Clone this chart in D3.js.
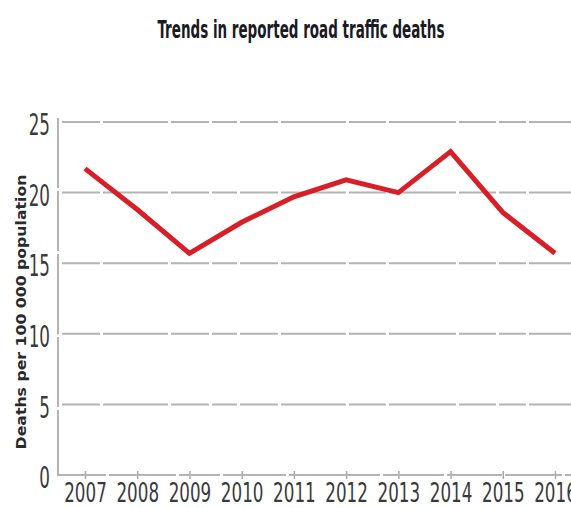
<!DOCTYPE html>
<html>
<head>
<meta charset="utf-8">
<script src="https://cdn.jsdelivr.net/npm/d3@7"></script>
<style>
  body { margin: 0; background: #fff; }
  svg text { font-family: "Liberation Sans Narrow", "DejaVu Sans Condensed", sans-serif; }
</style>
</head>
<body>
<svg id="chart" width="571" height="508"></svg>
<script>
// values
var years = [2007, 2008, 2009, 2010, 2011, 2012, 2013, 2014, 2015, 2016];
var deaths = [21.7, 18.8, 15.7, 17.9, 19.7, 20.9, 20.0, 22.9, 18.6, 15.7];
var yTicks = [0, 5, 10, 15, 20, 25];
var title = "Trends in reported road traffic deaths";
var yTitle = "Deaths per 100 000 population";

var svg = d3.select("#chart");

var x = d3.scaleLinear().domain([2007, 2016]).range([85, 555]);
var y = d3.scaleLinear().domain([0, 25]).range([475, 122]);

var gridDash = "38,3,65,3,38,3,25,3,38,3,65,3,37,3,67,3,37,3,27,3,60";

// gridlines
svg.append("g")
    .selectAll("line")
    .data(yTicks.filter(function (d) { return d > 0; }))
    .enter()
    .append("line")
    .attr("x1", 62)
    .attr("x2", 571)
    .attr("y1", function (d) { return y(d); })
    .attr("y2", function (d) { return y(d); })
    .attr("stroke", "#b4b4b4")
    .attr("stroke-width", 2)
    .attr("stroke-dasharray", gridDash);

// y axis
var yAxis = svg.append("g")
    .attr("transform", "translate(58,0)")
    .call(d3.axisLeft(y).tickValues(yTicks).tickSize(0).tickPadding(0));
yAxis.select(".domain").remove();
yAxis.selectAll("text")
    .attr("x", -8 / 0.62)
    .attr("dy", "0.42em")
    .attr("transform", "scale(0.62,1)")
    .style("font-size", "30px")
    .attr("fill", "#3a3a3a");
yAxis.append("line")
    .attr("x1", 0).attr("x2", 0)
    .attr("y1", 118).attr("y2", 476)
    .attr("stroke", "#b4b4b4")
    .attr("stroke-width", 2)
    .attr("stroke-dasharray", "70,3,60,3,80,3,70,3,80");

// x axis
var xAxis = svg.append("g")
    .attr("transform", "translate(0,475)")
    .call(d3.axisBottom(x).tickValues(years).tickFormat(d3.format("d")).tickSize(0).tickPadding(0));
xAxis.select(".domain").remove();
xAxis.append("line")
    .attr("x1", 58).attr("x2", 571)
    .attr("y1", 0).attr("y2", 0)
    .attr("stroke", "#b4b4b4")
    .attr("stroke-width", 2)
    .attr("stroke-dasharray", "48,3,67,3,41,3,63,3,91,3,61,3,55,3,57,3,61,3,60");
xAxis.selectAll(".tick").append("line")
    .attr("y1", -4).attr("y2", 4)
    .attr("stroke", "#a8a8a8")
    .attr("stroke-width", 1.5);
xAxis.selectAll("text")
    .attr("y", 27)
    .attr("dy", null)
    .attr("transform", "scale(0.69,1)")
    .style("font-size", "27px")
    .attr("fill", "#3a3a3a");

// line
var line = d3.line()
    .x(function (d, i) { return x(years[i]); })
    .y(function (d) { return y(d); });

svg.append("path")
    .datum(deaths)
    .attr("d", line)
    .attr("fill", "none")
    .attr("stroke", "#d81e27")
    .attr("stroke-width", 5)
    .attr("stroke-linejoin", "miter");

// squeeze a text horizontally so it spans the wanted width
function squeeze(sel, width, tr) {
    var s = width / sel.node().getComputedTextLength();
    sel.attr("transform", tr + " scale(" + s + ",1)");
}

// titles
var t = svg.append("text")
    .attr("text-anchor", "middle")
    .style("font-size", "25px")
    .style("font-weight", "bold")
    .attr("fill", "#1a1a24")
    .text(title);
squeeze(t, 287, "translate(301,38)");

var yt = svg.append("text")
    .attr("text-anchor", "middle")
    .style("font-family", "'DejaVu Sans', sans-serif")
    .style("font-size", "14px")
    .style("font-weight", "bold")
    .attr("fill", "#2a2a2a")
    .text(yTitle);
squeeze(yt, 275, "translate(26,312) rotate(-90)");
</script>
</body>
</html>
